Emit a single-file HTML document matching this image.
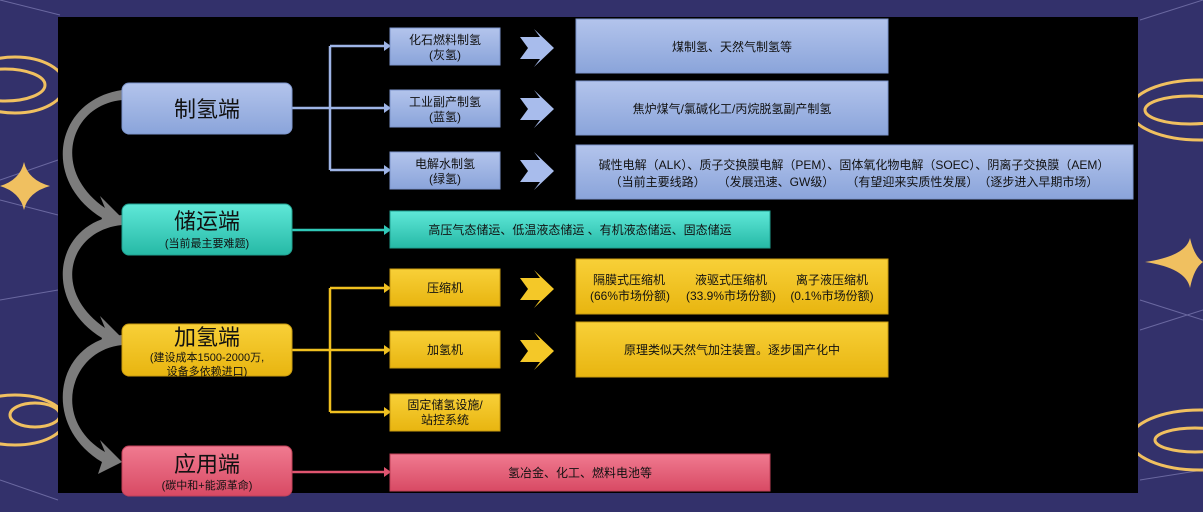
<!DOCTYPE html>
<html><head><meta charset="utf-8"><style>
body{margin:0;width:1203px;height:512px;overflow:hidden;background:#33316b;font-family:"Liberation Sans","Noto Sans CJK SC",sans-serif;}
</style></head><body>
<svg width="1203" height="512" xmlns="http://www.w3.org/2000/svg" style="position:absolute;left:0;top:0">
<defs>
<linearGradient id="gb" x1="0" y1="0" x2="0" y2="1"><stop offset="0" stop-color="#b3c4ec"/><stop offset="1" stop-color="#8aa4da"/></linearGradient>
<linearGradient id="gt" x1="0" y1="0" x2="0" y2="1"><stop offset="0" stop-color="#5fe8d8"/><stop offset="1" stop-color="#26b9a6"/></linearGradient>
<linearGradient id="gy" x1="0" y1="0" x2="0" y2="1"><stop offset="0" stop-color="#f8d038"/><stop offset="1" stop-color="#e8b510"/></linearGradient>
<linearGradient id="gp" x1="0" y1="0" x2="0" y2="1"><stop offset="0" stop-color="#f07a90"/><stop offset="1" stop-color="#d84a64"/></linearGradient>
<symbol id="chev" viewBox="0 0 34 38"><path d="M0 8 L20 8 L14 0 L34 19 L14 38 L20 30 L0 30 L8 19 Z" /></symbol>
</defs>
<!-- background decoration -->
<g stroke="#6a68a0" stroke-width="1" fill="none">
<path d="M0 0 L60 15 M1140 20 L1203 0 M0 180 L58 160 M0 200 L58 215 M1140 300 L1203 320 M1140 330 L1203 310 M0 480 L58 500 M1140 480 L1203 470 M0 300 L58 290"/>
</g>
<g stroke="#f0c060" stroke-width="3" fill="none">
<ellipse cx="15" cy="85" rx="50" ry="28"/><ellipse cx="5" cy="85" rx="40" ry="16"/>
<ellipse cx="1200" cy="110" rx="70" ry="30"/><ellipse cx="1190" cy="110" rx="45" ry="14"/>
<ellipse cx="1200" cy="440" rx="70" ry="30"/><ellipse cx="1195" cy="440" rx="40" ry="12"/>
<ellipse cx="15" cy="420" rx="50" ry="25"/><ellipse cx="35" cy="415" rx="25" ry="12"/>
</g>
<g fill="#f0c060">
<path d="M24 162 Q28 180 50 186 Q28 192 24 210 Q20 192 0 186 Q20 180 24 162Z"/>
<path d="M1190 238 Q1194 256 1203 262 Q1194 268 1190 288 Q1186 268 1145 262 Q1186 256 1190 238Z"/>
</g>
<rect x="58" y="17" width="1080" height="476" fill="#000"/>
<!-- gray curved arrows -->
<g fill="#7c7c7c">
<path d="M122 100 C70 105 50 170 105 208 L100 196 L122 218 L98 230 L102 218 C40 180 55 100 122 90Z"/>
<path d="M122 225 C70 230 50 290 105 328 L100 316 L122 338 L98 350 L102 338 C40 300 55 220 122 215Z"/>
<path d="M122 345 C70 350 50 420 105 452 L100 440 L122 462 L98 474 L102 462 C40 425 55 340 122 335Z"/>
</g>
<!-- connectors -->
<g fill="none" stroke-width="2.5">
<path d="M292 108 H384 M330 46 V170 M330 46 H384 M330 170 H384" stroke="#9eb4e6"/>
<path d="M292 230 H384" stroke="#30c8b8"/>
<path d="M292 350 H384 M330 288 V412 M330 288 H384 M330 412 H384" stroke="#f0c020"/>
<path d="M292 472 H384" stroke="#e05570"/>
</g>
<g>
<path d="M384 41 L391 46 L384 51Z M384 103 L391 108 L384 113Z M384 165 L391 170 L384 175Z" fill="#9eb4e6"/>
<path d="M384 225 L391 230 L384 235Z" fill="#30c8b8"/>
<path d="M384 283 L391 288 L384 293Z M384 345 L391 350 L384 355Z M384 407 L391 412 L384 417Z" fill="#f0c020"/>
<path d="M384 467 L391 472 L384 477Z" fill="#e05570"/>
</g>
<!-- chevrons -->
<g fill="#a8bcec"><use href="#chev" x="520" y="29" width="34" height="38"/><use href="#chev" x="520" y="90" width="34" height="38"/><use href="#chev" x="520" y="152" width="34" height="38"/></g>
<g fill="#f4c828"><use href="#chev" x="520" y="270" width="34" height="38"/><use href="#chev" x="520" y="332" width="34" height="38"/></g>
<!-- main nodes -->
<g stroke-width="1">
<rect x="122" y="83" width="170" height="51" rx="7" fill="url(#gb)" stroke="#7d95cc"/>
<rect x="122" y="204" width="170" height="51" rx="7" fill="url(#gt)" stroke="#20a090"/>
<rect x="122" y="324" width="170" height="52" rx="7" fill="url(#gy)" stroke="#c89a10"/>
<rect x="122" y="446" width="170" height="50" rx="7" fill="url(#gp)" stroke="#c04058"/>
</g>
<g stroke-width="1">
<rect x="390" y="28" width="110" height="37" fill="url(#gb)" stroke="#7d95cc"/>
<rect x="390" y="90" width="110" height="37" fill="url(#gb)" stroke="#7d95cc"/>
<rect x="390" y="152" width="110" height="37" fill="url(#gb)" stroke="#7d95cc"/>
<rect x="390" y="211" width="380" height="37" fill="url(#gt)" stroke="#20a090"/>
<rect x="390" y="269" width="110" height="37" fill="url(#gy)" stroke="#c89a10"/>
<rect x="390" y="331" width="110" height="37" fill="url(#gy)" stroke="#c89a10"/>
<rect x="390" y="394" width="110" height="37" fill="url(#gy)" stroke="#c89a10"/>
<rect x="390" y="454" width="380" height="37" fill="url(#gp)" stroke="#c04058"/>
<rect x="576" y="19" width="312" height="54" fill="url(#gb)" stroke="#7d95cc"/>
<rect x="576" y="81" width="312" height="54" fill="url(#gb)" stroke="#7d95cc"/>
<rect x="576" y="145" width="557" height="54" fill="url(#gb)" stroke="#7d95cc"/>
<rect x="576" y="259" width="312" height="55" fill="url(#gy)" stroke="#c89a10"/>
<rect x="576" y="322" width="312" height="55" fill="url(#gy)" stroke="#c89a10"/>
</g>
<g fill="#111" text-anchor="middle" font-family="Liberation Sans, Noto Sans CJK SC, sans-serif">
<text x="207" y="117" font-size="22">制氢端</text>
<text x="207" y="229" font-size="22">储运端</text>
<text x="207" y="247" font-size="11">(当前最主要难题)</text>
<text x="207" y="345" font-size="22">加氢端</text>
<text x="207" y="361" font-size="11">(建设成本1500-2000万,</text>
<text x="207" y="375" font-size="11">设备多依赖进口)</text>
<text x="207" y="472" font-size="22">应用端</text>
<text x="207" y="489" font-size="11">(碳中和+能源革命)</text>
<g font-size="12">
<text x="445" y="44">化石燃料制氢</text><text x="445" y="59">(灰氢)</text>
<text x="445" y="106">工业副产制氢</text><text x="445" y="121">(蓝氢)</text>
<text x="445" y="168">电解水制氢</text><text x="445" y="183">(绿氢)</text>
<text x="580" y="234">高压气态储运、低温液态储运 、有机液态储运、固态储运</text>
<text x="445" y="292">压缩机</text>
<text x="445" y="354">加氢机</text>
<text x="445" y="409">固定储氢设施/</text><text x="445" y="424">站控系统</text>
<text x="580" y="477">氢冶金、化工、燃料电池等</text>
<text x="732" y="51">煤制氢、天然气制氢等</text>
<text x="732" y="113">焦炉煤气/氯碱化工/丙烷脱氢副产制氢</text>
<text x="854" y="169">碱性电解（ALK）、质子交换膜电解（PEM）、固体氧化物电解（SOEC）、阴离子交换膜（AEM）</text>
<text x="854" y="186">（当前主要线路）　　（发展迅速、GW级）　　（有望迎来实质性发展）　（逐步进入早期市场）</text>
<text x="629" y="284">隔膜式压缩机</text><text x="630" y="300">(66%市场份额)</text>
<text x="731" y="284">液驱式压缩机</text><text x="731" y="300">(33.9%市场份额)</text>
<text x="832" y="284">离子液压缩机</text><text x="832" y="300">(0.1%市场份额)</text>
<text x="732" y="354">原理类似天然气加注装置。逐步国产化中</text>
</g>
</g>
</svg>
</body></html>
